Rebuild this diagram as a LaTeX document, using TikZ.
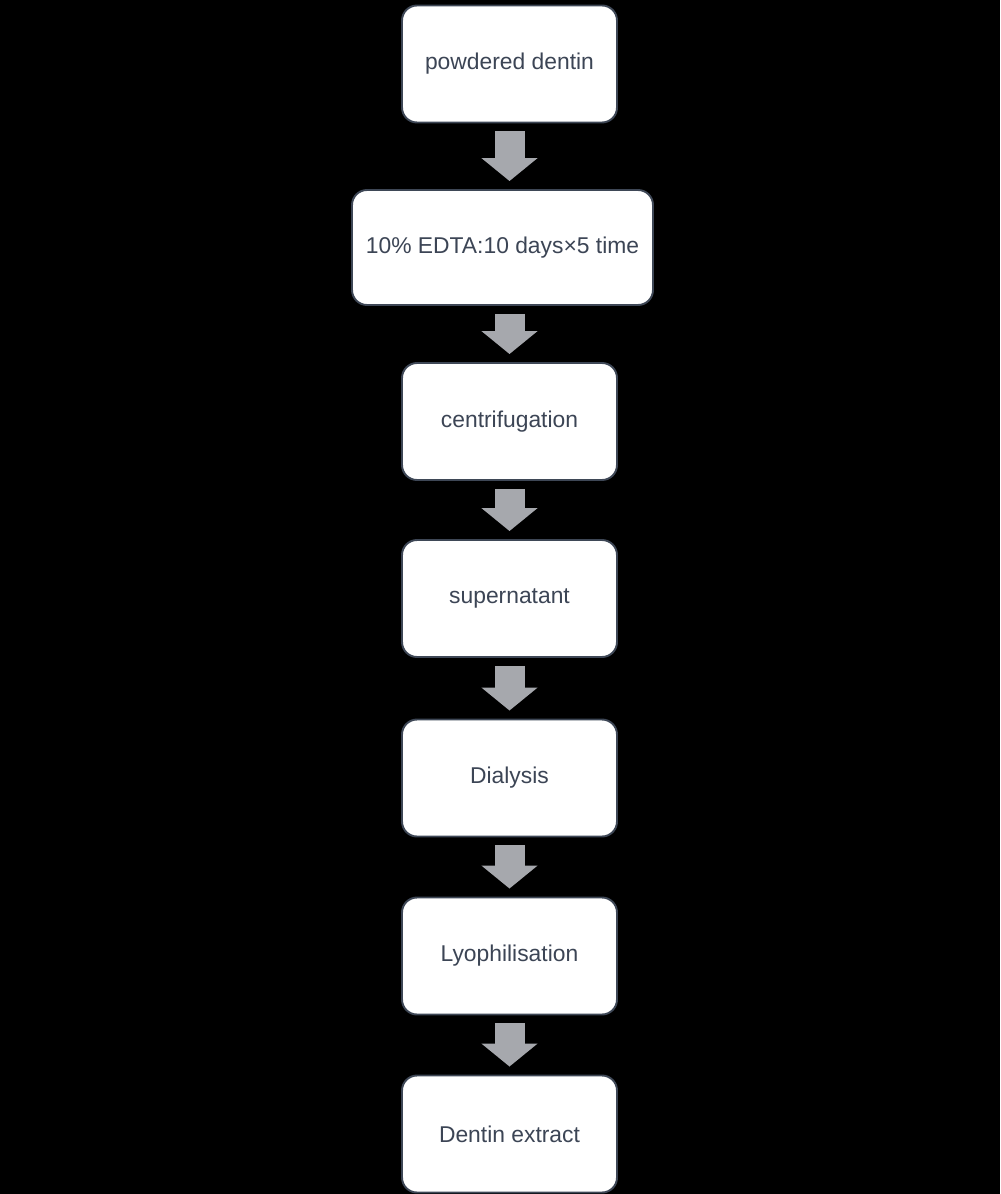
\documentclass[tikz,border=0pt]{standalone}
\usepackage{fontspec}
\setmainfont{Liberation Sans}
\usetikzlibrary{arrows.meta,positioning,calc}
\definecolor{boxline}{RGB}{62,71,86}
\definecolor{boxtext}{RGB}{60,69,85}
\definecolor{flowgray}{RGB}{166,168,173}
\tikzset{
    stepbox/.style={draw=boxline, fill=white, line width=1.1pt, rounded corners=0.3cm,
        minimum width=4.3cm, minimum height=2.34cm, inner sep=0pt,
        text=boxtext, font=\fontsize{13}{15}\selectfont},
    flow/.style={draw=flowgray, line width=0.6cm, shorten <=0.16cm, shorten >=0.16cm,
        -{Triangle[width=1.1cm,length=0.46cm]}}
}

\begin{document}
\begin{tikzpicture}
    %Page and background%
    %===========================================================
    \fill[black] (0,0) rectangle (20,-23.88);
    \useasboundingbox (0,0) rectangle (20,-23.88);
    \def \Xc {10.19}; %Centre line of the steps
    %Steps%
    %===========================================================
    \node[stepbox] (powder) at (\Xc,-1.28) {powdered dentin};
    \node[stepbox, minimum width=6.02cm, minimum height=2.3cm] (edta) at (10.05,-4.95) {10\% EDTA:10 days×5 time};
    \node[stepbox] (centri) at (\Xc,-8.43) {centrifugation};
    \node[stepbox] (super) at (\Xc,-11.97) {supernatant};
    \node[stepbox] (dialysis) at (\Xc,-15.56) {Dialysis};
    \node[stepbox] (lyo) at (\Xc,-19.12) {Lyophilisation};
    \node[stepbox] (extract) at (\Xc,-22.68) {Dentin extract};
    %Block arrows between the steps%
    %===========================================================
    \draw[flow] (powder.south) -- (powder.south |- edta.north);
    \draw[flow] (centri.north |- edta.south) -- (centri.north);
    \draw[flow] (centri.south) -- (super.north);
    \draw[flow] (super.south) -- (dialysis.north);
    \draw[flow] (dialysis.south) -- (lyo.north);
    \draw[flow] (lyo.south) -- (extract.north);
\end{tikzpicture}
\end{document}
